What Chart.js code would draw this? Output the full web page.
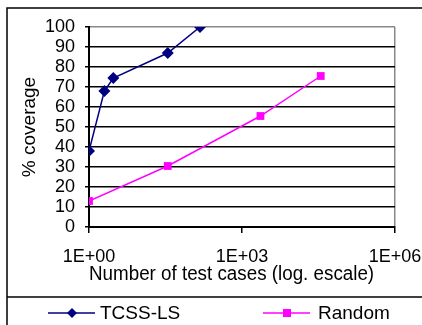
<!DOCTYPE html>
<html>
<head>
<meta charset="utf-8">
<script src="https://cdn.jsdelivr.net/npm/chart.js@4"></script>
<style>
  html, body { margin: 0; padding: 0; background: #fff; }
  #wrap { width: 422px; height: 325px; }
</style>
</head>
<body>
<div id="wrap"><canvas id="cov" width="422" height="325"></canvas></div>
<script>
// values
const tcssCases = [1, 2, 3, 35, 150];
const tcssCoverage = [38, 68, 74.5, 87, 100];
const randomCases = [1, 35, 2300, 35000];
const randomCoverage = [13, 30.5, 55.5, 75.5];
const xTickValues = [1, 1e3, 1e6];
const xTickLabels = ['1E+00', '1E+03', '1E+06'];

const FONT = 'Liberation Sans, Arial, sans-serif';

// frame around chart + legend box, and the legend itself
const framePlugin = {
  id: 'frame',
  beforeDraw(chart) {
    const ctx = chart.ctx;
    ctx.save();
    ctx.strokeStyle = '#000';
    ctx.lineWidth = 1.5;
    ctx.strokeRect(7, 8, 500, 400);
    ctx.beginPath();
    ctx.moveTo(7, 297);
    ctx.lineTo(422, 297);
    ctx.stroke();
    ctx.restore();
  },
  afterDraw(chart) {
    const ctx = chart.ctx;
    const items = [
      { ds: chart.data.datasets[0], x: 48, tx: 100 },
      { ds: chart.data.datasets[1], x: 263, tx: 318 }
    ];
    ctx.save();
    items.forEach(it => {
      const y = 313;
      ctx.strokeStyle = it.ds.borderColor;
      ctx.lineWidth = 1.5;
      ctx.beginPath();
      ctx.moveTo(it.x, y);
      ctx.lineTo(it.x + 47, y);
      ctx.stroke();
      ctx.fillStyle = it.ds.backgroundColor;
      const cx = it.x + 24;
      if (it.ds.pointStyle === 'rectRot') {
        ctx.beginPath();
        ctx.moveTo(cx, y - 5); ctx.lineTo(cx + 5, y); ctx.lineTo(cx, y + 5); ctx.lineTo(cx - 5, y);
        ctx.closePath();
        ctx.fill();
      } else {
        ctx.fillRect(cx - 4, y - 4, 8, 8);
      }
      ctx.fillStyle = '#000';
      ctx.font = '19px ' + FONT;
      ctx.textBaseline = 'middle';
      ctx.fillText(it.ds.label, it.tx, y + 1);
    });
    ctx.restore();
  }
};

new Chart(document.getElementById('cov'), {
  type: 'line',
  data: {
    datasets: [
      {
        label: 'TCSS-LS',
        data: tcssCases.map((c, i) => ({ x: c, y: tcssCoverage[i] })),
        borderColor: '#000080',
        backgroundColor: '#000080',
        borderWidth: 1.5,
        pointStyle: 'rectRot',
        pointRadius: 6,
        pointBorderWidth: 0,
        fill: false
      },
      {
        label: 'Random',
        data: randomCases.map((c, i) => ({ x: c, y: randomCoverage[i] })),
        borderColor: '#ff00ff',
        backgroundColor: '#ff00ff',
        borderWidth: 1.5,
        pointStyle: 'rect',
        pointRadius: 5.5,
        pointBorderWidth: 0,
        fill: false
      }
    ]
  },
  options: {
    responsive: false,
    animation: false,
    layout: { padding: { left: 0, right: 27, top: 27, bottom: 38 } },
    plugins: { legend: { display: false }, tooltip: { enabled: false } },
    scales: {
      x: {
        type: 'logarithmic',
        min: 1,
        max: 1e6,
        afterBuildTicks: s => { s.ticks = xTickValues.map(v => ({ value: v })); },
        afterFit: s => { s.height = 60; s.paddingLeft = 0; s.paddingRight = 0; },
        ticks: {
          autoSkip: false,
          maxRotation: 0,
          padding: 13,
          color: '#000',
          font: { family: FONT, size: 18 },
          callback: v => xTickLabels[xTickValues.indexOf(v)]
        },
        grid: {
          drawOnChartArea: true,
          color: ctx => ctx.index === 2 ? '#888' : 'rgba(0,0,0,0)',
          tickColor: '#000',
          tickLength: 6,
          lineWidth: 1.5
        },
        border: { color: '#000', width: 2 },
        title: {
          display: true,
          text: 'Number of test cases (log. escale)    ',
          color: '#000',
          font: { family: FONT, size: 19.5 },
          padding: { top: 0, bottom: 1 }
        }
      },
      y: {
        min: 0,
        max: 100,
        afterFit: s => { s.width = 89; s.paddingTop = 0; s.paddingBottom = 0; },
        ticks: {
          stepSize: 10,
          autoSkip: false,
          padding: 10,
          color: '#000',
          font: { family: FONT, size: 18 }
        },
        grid: {
          color: ctx => ctx.tick && ctx.tick.value === 100 ? '#888' : '#000',
          tickColor: '#000',
          tickLength: 4,
          lineWidth: 1.5
        },
        border: { color: '#000', width: 2 },
        title: {
          display: true,
          text: '% coverage',
          color: '#000',
          font: { family: FONT, size: 19 },
          padding: { top: 18, bottom: 0 }
        }
      }
    }
  },
  plugins: [framePlugin]
});
</script>
</body>
</html>
